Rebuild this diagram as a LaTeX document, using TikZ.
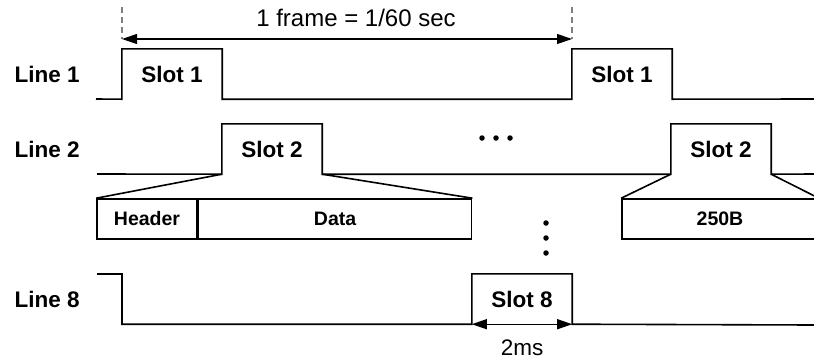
\documentclass[tikz,border=0pt]{standalone}
\usepackage{fontspec}
\setmainfont{Liberation Sans}
\usetikzlibrary{arrows.meta,positioning,calc}
\newcommand{\bigfont}{\fontsize{22.5}{26}\selectfont}
\tikzset{
  wave/.style={line width=1.6pt},
  slot/.style={minimum width=100pt,minimum height=50pt,inner sep=0pt,font=\bigfont\bfseries},
  field/.style={draw,line width=1.6pt,minimum height=40pt,inner sep=0pt,
    font=\bfseries\fontsize{19.5}{22}\selectfont},
  linelabel/.style={anchor=west,font=\bigfont\bfseries},
  dim/.style={line width=1.2pt,{Triangle[length=15pt,width=10pt]}-{Triangle[length=15pt,width=10pt]}},
  marker/.style={gray,line width=1.2pt,dash pattern=on 6pt off 4pt},
  dot/.style={fill,circle,inner sep=0pt,minimum size=5.5pt}
}
\begin{document}
\begin{tikzpicture}[x=1pt,y=-1pt,font=\bigfont]
  \useasboundingbox (0,0) rectangle (814,362);
  \clip (0,0) rectangle (814,362);

  % Line 1
  \node[linelabel] (l1) at (11,74) {Line 1};
  \node[slot] (s1a) at (172,74) {Slot 1};
  \node[slot] (s1b) at (622,74) {Slot 1};
  \coordinate (l1s) at (96,99);
  \coordinate (l1e) at (814,99);
  \draw[wave] (l1s) -- (s1a.south west) -- (s1a.north west) -- (s1a.north east) -- (s1a.south east)
    -- (s1b.south west) -- (s1b.north west) -- (s1b.north east) -- (s1b.south east) -- (l1e);

  % frame length
  \coordinate (f1t) at (122,7);
  \coordinate (f1b) at (122,39);
  \coordinate (f2t) at (572,7);
  \coordinate (f2b) at (572,39);
  \draw[marker] (f1t) -- (f1b);
  \draw[marker] (f2t) -- (f2b);
  \draw[dim] (f1b) -- (f2b);
  \node[font=\fontsize{24}{28}\selectfont] (frame) at (356,18) {1 frame = 1/60 sec};

  % Line 2
  \node[linelabel] (l2) at (11,149) {Line 2};
  \node[slot] (s2a) at (272,149) {Slot 2};
  \node[slot] (s2b) at (721,149) {Slot 2};
  \coordinate (l2s) at (97,174);
  \coordinate (l2e) at (814,174);
  \draw[wave] (l2s) -- (s2a.south west) -- (s2a.north west) -- (s2a.north east) -- (s2a.south east)
    -- (s2b.south west) -- (s2b.north west) -- (s2b.north east) -- (s2b.south east) -- (l2e);
  \foreach \x in {482,496,510} \node[dot] at (\x,138) {};

  % slot contents
  \node[field,minimum width=100pt] (hdr) at (147,219) {Header};
  \node[field,minimum width=273pt,right=0pt of hdr] (data) {Data};
  \node[field,minimum width=196pt] (pay) at (720,219) {250B};
  \draw[wave] (s2a.south west) -- (hdr.north west);
  \draw[wave] (s2a.south east) -- (data.north east);
  \draw[wave] (s2b.south west) -- (pay.north west);
  \draw[wave] (s2b.south east) -- (pay.north east);
  \foreach \y in {223,238,253} \node[dot] at (546,\y) {};

  % Line 8
  \node[linelabel] (l8) at (11,299) {Line 8};
  \node[slot] (s8) at (522,299) {Slot 8};
  \coordinate (l8s) at (97,274);
  \coordinate (l8h) at (122,274);
  \coordinate (l8e) at (814,325);
  \draw[wave] (l8s) -- (l8h) -- (l8h |- s8.south) -- (s8.south west) -- (s8.north west)
    -- (s8.north east) -- (s8.south east) -- (l8e);
  \draw[dim] (s8.south west) -- (s8.south east);
  \node (dur) at (522,348) {2ms};
\end{tikzpicture}
\end{document}
